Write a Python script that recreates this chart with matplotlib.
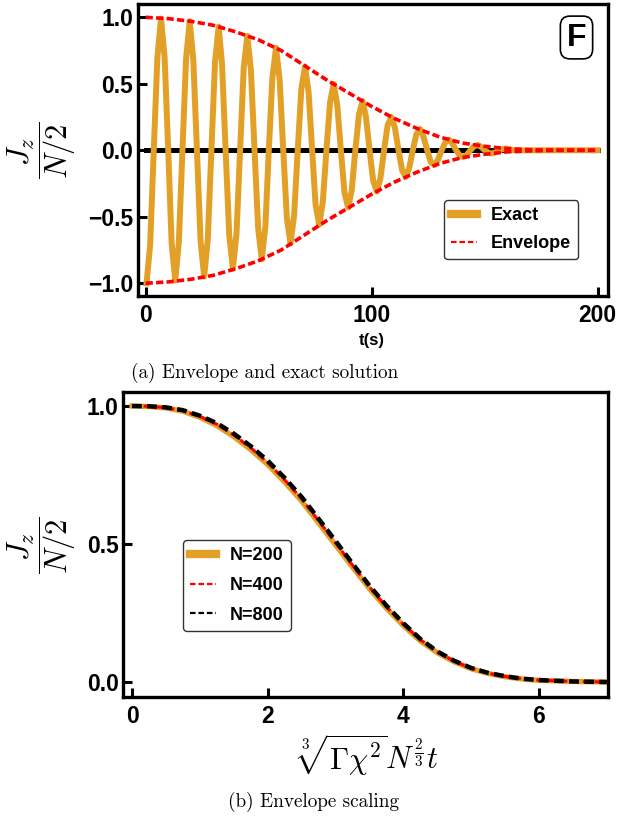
import matplotlib
matplotlib.use("Agg")
import matplotlib.pyplot as plt
from matplotlib.lines import Line2D

plt.rcParams['font.family'] = ['Liberation Sans', 'DejaVu Sans']
plt.rcParams['font.weight'] = 'bold'
plt.rcParams['mathtext.fontset'] = 'cm'

# ---- panel (a): exact solution and envelope ----
t_exact = [0.4, 2.0, 3.6, 5.2, 6.8, 8.4, 10.0, 11.5, 13.1, 14.7, 16.3, 17.9, 19.5,
           21.1, 22.7, 24.3, 25.9, 27.5, 29.1, 30.7, 32.3, 33.8, 35.4, 37.0, 38.6,
           40.2, 41.8, 43.4, 45.0, 46.6, 48.2, 49.8, 51.4, 53.0, 54.5, 56.1, 57.7,
           59.3, 60.9, 62.5, 64.1, 65.7, 67.3, 68.9, 70.5, 72.1, 73.7, 75.2, 76.8,
           78.4, 80.0, 81.6, 83.2, 84.8, 86.4, 88.0, 89.6, 91.2, 92.8, 94.4, 96.0,
           97.5, 99.1, 100.7, 102.3, 103.9, 105.5, 107.1, 108.7, 110.3, 111.9, 113.5,
           115.1, 116.7, 118.2, 119.8, 121.4, 123.0, 124.6, 126.2, 127.8, 129.4,
           131.0, 132.6, 134.2, 135.8, 137.4, 139.0, 140.5, 142.1, 143.7, 145.3,
           146.9, 148.5, 150.1, 151.7, 153.3, 154.9, 156.5, 158.1, 159.7, 161.2,
           162.8, 200.0]
jz_exact = [-1.00, -0.71, 0.00, 0.70, 0.99, 0.70, 0.00, -0.70, -0.98, -0.69, 0.00,
            0.69, 0.97, 0.68, 0.00, -0.68, -0.95, -0.67, 0.00, 0.66, 0.93, 0.65, 0.00,
            -0.64, -0.89, -0.63, 0.00, 0.62, 0.86, 0.60, 0.00, -0.59, -0.82, -0.57,
            0.00, 0.55, 0.77, 0.53, 0.00, -0.51, -0.70, -0.49, 0.00, 0.46, 0.63, 0.44,
            0.00, -0.41, -0.56, -0.39, 0.00, 0.36, 0.50, 0.34, 0.00, -0.32, -0.43,
            -0.30, 0.00, 0.27, 0.37, 0.25, 0.00, -0.23, -0.31, -0.21, 0.00, 0.19,
            0.25, 0.17, 0.00, -0.15, -0.20, -0.13, 0.00, 0.12, 0.16, 0.10, 0.00,
            -0.09, -0.11, -0.07, 0.00, 0.06, 0.08, 0.05, 0.00, -0.04, -0.05, -0.035,
            0.00, 0.03, 0.04, 0.025, 0.00, -0.02, -0.024, -0.015, 0.00, 0.01, 0.013,
            0.008, 0.00, 0.00]

t_env = [0, 10, 20, 30, 40, 50, 60, 70, 80, 90, 100, 110, 120, 130, 140, 150, 160,
         170, 180, 190, 200]
envelope = [1.00, 0.99, 0.97, 0.94, 0.89, 0.83, 0.75, 0.64, 0.53, 0.43, 0.33, 0.24,
            0.165, 0.10, 0.055, 0.03, 0.012, 0.004, 0.001, 0.0, 0.0]

t_zero = [0, 200]
jz_zero = [0, 0]

# ---- panel (b): envelope scaling ----
x_scaled = [0.0, 0.25, 0.5, 0.75, 1.0, 1.25, 1.5, 1.75, 2.0, 2.25, 2.5, 2.75, 3.0,
            3.25, 3.5, 3.75, 4.0, 4.25, 4.5, 4.75, 5.0, 5.25, 5.5, 5.75, 6.0, 6.5, 7.0]
env_n200 = [1.000, 0.998, 0.993, 0.981, 0.959, 0.929, 0.889, 0.842, 0.788, 0.725,
            0.656, 0.577, 0.497, 0.417, 0.339, 0.268, 0.205, 0.150, 0.107, 0.074,
            0.049, 0.032, 0.020, 0.012, 0.007, 0.003, 0.001]
env_n400 = [1.000, 0.999, 0.994, 0.983, 0.962, 0.934, 0.895, 0.849, 0.795, 0.733,
            0.664, 0.585, 0.505, 0.424, 0.345, 0.273, 0.210, 0.154, 0.110, 0.076,
            0.051, 0.033, 0.021, 0.013, 0.008, 0.003, 0.001]
env_n800 = [1.000, 0.999, 0.995, 0.985, 0.965, 0.938, 0.900, 0.855, 0.802, 0.740,
            0.671, 0.592, 0.512, 0.430, 0.350, 0.278, 0.214, 0.157, 0.112, 0.078,
            0.052, 0.034, 0.022, 0.013, 0.008, 0.003, 0.001]

orange = '#E3A026'
W, H = 618, 819

fig = plt.figure(figsize=(W / 100, H / 100), dpi=100)


def px_axes(left, top, right, bottom):
    return fig.add_axes([left / W, 1 - bottom / H, (right - left) / W, (bottom - top) / H])


def style_axes(ax):
    for sp in ax.spines.values():
        sp.set_linewidth(2.4)
    ax.tick_params(direction='in', length=6.5, width=2.2, labelsize=16.5,
                   top=False, right=False)
    ax.tick_params(axis='x', pad=6)
    ax.tick_params(axis='y', pad=3)
    for lab in ax.get_xticklabels() + ax.get_yticklabels():
        lab.set_fontweight('bold')


# panel (a)
ax1 = px_axes(137.5, 4, 608, 295.5)
ax1.plot(t_zero, jz_zero, color='black', lw=3.6, zorder=2)
ax1.plot(t_exact, jz_exact, color=orange, lw=4.3, solid_joinstyle='round', zorder=3)
ax1.plot(t_env, envelope, color='red', lw=2.6, ls=(0, (2.0, 0.9)), zorder=4)
ax1.plot(t_env, [-v for v in envelope], color='red', lw=2.6, ls=(0, (2.0, 0.9)), zorder=4)
ax1.set_xlim(-3.6, 204.6)
ax1.set_ylim(-1.092, 1.10)
ax1.set_xticks([0, 100, 200])
ax1.set_yticks([-1.0, -0.5, 0.0, 0.5, 1.0])
ax1.set_yticklabels(['\u22121.0', '\u22120.5', '0.0', '0.5', '1.0'])
style_axes(ax1)

h1 = [Line2D([0], [0], color=orange, lw=6),
      Line2D([0], [0], color='red', lw=1.6, ls=(0, (2.5, 1.3)))]
leg1 = ax1.legend(h1, ['Exact', 'Envelope'], loc='upper left',
                  bbox_to_anchor=(444 / W, 1 - 200 / H), bbox_transform=fig.transFigure,
                  borderaxespad=0, prop={'weight': 'bold', 'size': 13},
                  handlelength=1.4, labelspacing=0.6, fancybox=True, framealpha=1)
leg1.get_frame().set_edgecolor('#333333')
leg1.get_frame().set_linewidth(1.0)

fig.text(576.5 / W, 1 - 37.5 / H, 'F', fontsize=23, fontweight='bold', ha='center', va='center',
         bbox=dict(boxstyle='round,pad=0.2,rounding_size=0.3', fc='white', ec='black', lw=1.2))
fig.text(372 / W, 1 - 340 / H, 't(s)', fontsize=12, fontweight='bold', ha='center', va='center')
fig.text(42 / W, 1 - 150.7 / H, r'$\dfrac{J_z}{N/2}$', fontsize=22, rotation=90,
         ha='center', va='center')
fig.text(265 / W, 1 - 373 / H, '(a) Envelope and exact solution', family='cmr10',
         fontweight='normal', fontsize=13.8, ha='center', va='center')

# panel (b)
ax2 = px_axes(123, 392, 607.5, 696.5)
ax2.plot(x_scaled, env_n200, color=orange, lw=3.8, zorder=2)
ax2.plot(x_scaled, env_n400, color='red', lw=2.2, ls=(0, (2.5, 1.3)), zorder=3)
ax2.plot(x_scaled, env_n800, color='black', lw=3.2, ls=(0, (2.2, 1.2)), zorder=4)
ax2.set_xlim(-0.133, 7.01)
ax2.set_ylim(-0.0514, 1.0507)
ax2.set_xticks([0, 2, 4, 6])
ax2.set_yticks([0.0, 0.5, 1.0])
ax2.set_yticklabels(['0.0', '0.5', '1.0'])
style_axes(ax2)

h2 = [Line2D([0], [0], color=orange, lw=6),
      Line2D([0], [0], color='red', lw=1.6, ls=(0, (2.5, 1.3))),
      Line2D([0], [0], color='black', lw=1.6, ls=(0, (2.5, 1.3)))]
leg2 = ax2.legend(h2, ['N=200', 'N=400', 'N=800'], loc='upper left',
                  bbox_to_anchor=(183 / W, 1 - 540 / H), bbox_transform=fig.transFigure,
                  borderaxespad=0, prop={'weight': 'bold', 'size': 13},
                  handlelength=1.4, labelspacing=0.7, fancybox=True, framealpha=1)
leg2.get_frame().set_edgecolor('#333333')
leg2.get_frame().set_linewidth(1.0)

fig.text(42 / W, 1 - 545 / H, r'$\dfrac{J_z}{N/2}$', fontsize=22, rotation=90,
         ha='center', va='center')
fig.text(367 / W, 1 - 755 / H, r'$\sqrt[3]{\Gamma\chi^2}N^{\frac{2}{3}}t$', fontsize=22,
         ha='center', va='center')
fig.text(314 / W, 1 - 802 / H, '(b) Envelope scaling', family='cmr10',
         fontweight='normal', fontsize=13.8, ha='center', va='center')

fig.savefig('out.png', dpi=100)
